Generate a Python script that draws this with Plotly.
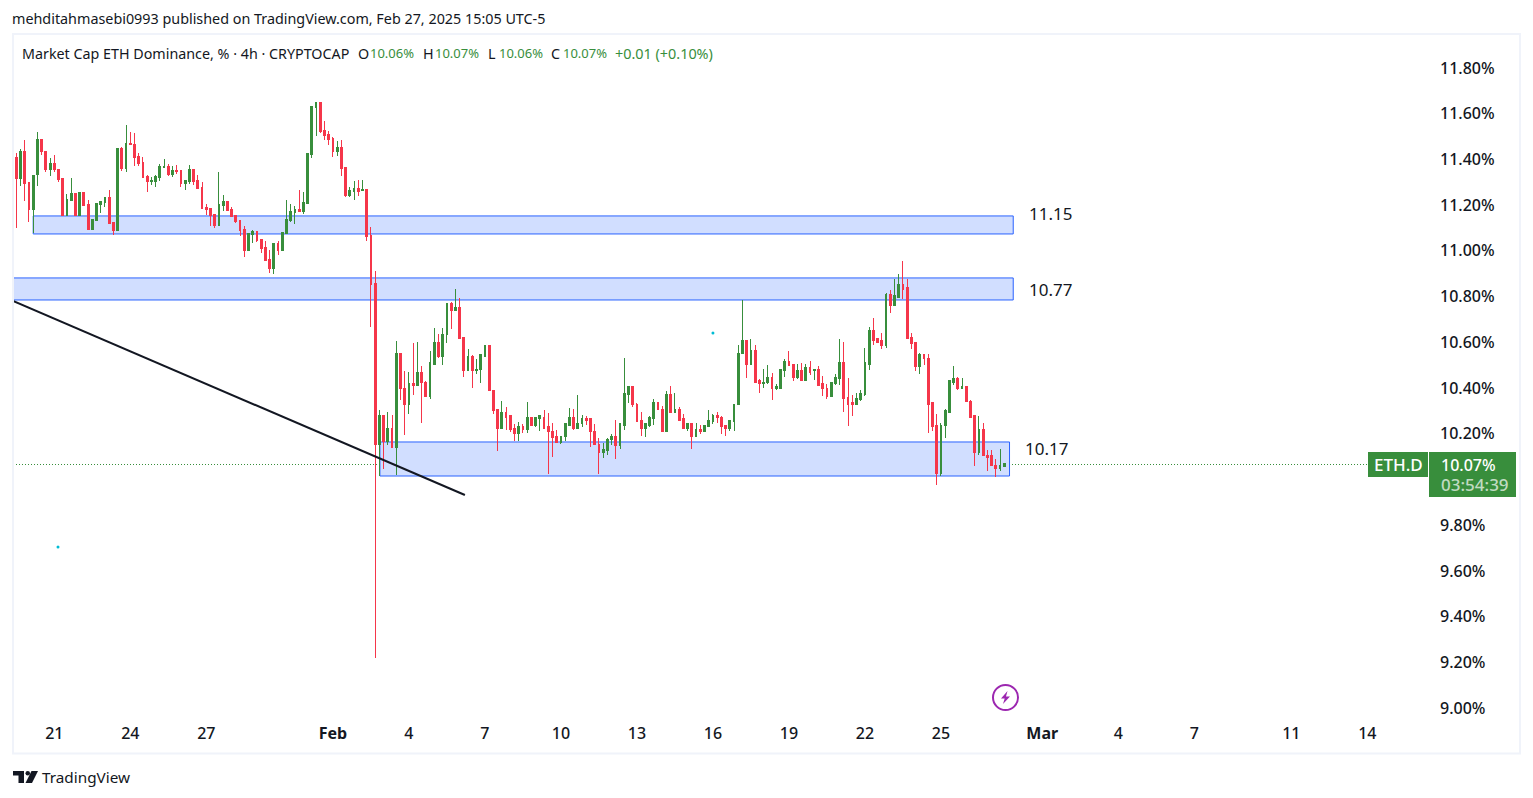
import pandas as pd
import plotly.graph_objects as go

FONT = "Noto Sans"
INK = "#131722"
GREEN = "#388E3C"
RED = "#F5364A"
BOX_LINE = "#2962FF"
BOX_FILL = "#D1DEFF"

first_bar = "2025-01-19 11:00"
opens = [11.427,
 11.409,11.316,11.436,11.297,11.181,11.334,11.488,11.436,11.354,11.383,11.357,11.315,11.153,11.220,11.249,11.153,11.253,11.201,11.092,11.131,11.201,11.210,11.232,11.122,11.087,11.446,11.358,11.468,11.463,11.411,11.385,11.323,11.302,11.302,11.319,11.363,11.367,11.332,11.350,11.350,11.293,11.302,11.354,11.306,
 11.275,11.188,11.183,11.157,11.109,11.197,11.214,11.179,11.153,11.131,11.092,11.000,11.073,11.083,11.048,11.013,10.960,10.921,11.030,11.000,11.074,11.131,11.166,11.179,11.170,11.205,11.420,11.625,11.647,11.525,11.507,11.490,11.433,11.450,11.363,11.240,11.258,11.271,11.262,11.267,11.065,10.855,
 10.151,10.282,10.168,10.225,10.142,10.553,10.400,10.326,10.418,10.413,10.466,10.426,10.361,10.505,10.597,10.540,10.632,10.768,10.737,10.750,10.619,10.475,10.536,10.475,10.479,10.540,10.584,10.391,10.304,10.225,10.291,10.278,10.221,10.203,10.230,10.217,10.269,10.238,10.265,10.273,10.230,10.212,
 10.186,10.160,10.186,10.238,10.273,10.221,10.243,10.265,10.265,10.212,10.155,10.120,10.125,10.173,10.186,10.147,10.238,10.370,10.405,10.330,10.256,10.225,10.238,10.265,10.335,10.308,10.212,10.370,10.291,10.308,10.265,10.221,10.243,10.186,10.217,10.208,10.230,10.252,10.282,10.273,10.234,10.221,10.252,10.326,
 10.549,10.606,10.501,10.566,10.431,10.418,10.422,10.444,10.400,10.400,10.475,10.514,10.501,10.448,10.475,10.431,10.488,10.475,10.479,10.418,10.400,10.365,10.418,10.440,10.510,10.357,10.335,10.326,10.348,10.370,10.505,10.650,10.615,
 10.606,10.588,10.807,10.763,10.798,10.851,10.838,10.619,10.597,10.496,10.545,10.531,10.335,10.234,10.024,10.234,10.295,10.426,10.440,10.396,10.405,10.343,10.278,10.120,10.217,10.107,10.103,10.063,10.046,10.055]
highs = [11.427,
 11.427,11.444,11.485,11.297,11.331,11.519,11.488,11.436,11.405,11.420,11.357,11.315,11.249,11.318,11.253,11.253,11.253,11.221,11.140,11.205,11.216,11.232,11.267,11.122,11.446,11.456,11.551,11.520,11.516,11.428,11.411,11.332,11.323,11.332,11.380,11.402,11.380,11.372,11.376,11.350,11.306,11.376,11.354,11.332,
 11.302,11.205,11.183,11.157,11.345,11.245,11.214,11.192,11.153,11.131,11.109,11.074,11.092,11.083,11.048,11.044,11.004,11.030,11.044,11.083,11.223,11.205,11.197,11.267,11.258,11.428,11.630,11.652,11.647,11.568,11.525,11.498,11.481,11.485,11.363,11.280,11.306,11.310,11.310,11.267,11.105,10.912,
 10.304,10.282,10.295,10.282,10.606,10.553,10.475,10.470,10.597,10.601,10.496,10.431,10.562,10.663,10.636,10.663,10.772,10.776,10.833,10.794,10.619,10.571,10.545,10.527,10.549,10.588,10.584,10.391,10.308,10.343,10.317,10.278,10.243,10.252,10.243,10.339,10.269,10.273,10.282,10.304,10.291,10.247,
 10.217,10.190,10.243,10.313,10.308,10.370,10.282,10.278,10.269,10.243,10.182,10.160,10.182,10.199,10.260,10.247,10.531,10.405,10.405,10.335,10.295,10.247,10.278,10.352,10.335,10.322,10.387,10.409,10.378,10.317,10.287,10.247,10.243,10.247,10.238,10.234,10.304,10.287,10.295,10.278,10.234,10.256,10.330,10.588,
 10.785,10.610,10.615,10.588,10.440,10.483,10.501,10.466,10.418,10.479,10.527,10.562,10.501,10.505,10.510,10.505,10.518,10.479,10.497,10.453,10.418,10.422,10.462,10.615,10.601,10.444,10.370,10.378,10.391,10.575,10.667,10.706,10.615,
 10.641,10.816,10.829,10.877,10.899,10.956,10.877,10.641,10.597,10.553,10.545,10.549,10.335,10.287,10.247,10.308,10.431,10.496,10.448,10.444,10.409,10.348,10.278,10.278,10.247,10.129,10.129,10.090,10.133,10.068]
lows = [11.405,
 11.102,11.284,11.216,11.128,11.077,11.284,11.417,11.347,11.329,11.347,11.299,11.153,11.153,11.220,11.153,11.153,11.198,11.092,11.092,11.131,11.166,11.192,11.118,11.071,11.087,11.350,11.347,11.463,11.372,11.372,11.319,11.258,11.288,11.280,11.306,11.363,11.328,11.323,11.337,11.280,11.267,11.293,11.288,11.271,
 11.183,11.157,11.109,11.100,11.109,11.175,11.175,11.149,11.122,11.065,10.974,11.000,11.035,11.039,10.991,10.956,10.904,10.899,10.982,11.000,11.074,11.127,11.118,11.170,11.162,11.205,11.407,11.503,11.516,11.485,11.463,11.411,11.415,11.328,11.236,11.236,11.223,11.240,11.262,11.044,10.668,9.219,
 10.015,10.046,10.151,10.142,10.020,10.348,10.195,10.287,10.370,10.409,10.247,10.361,10.352,10.505,10.531,10.501,10.597,10.658,10.737,10.615,10.448,10.475,10.400,10.461,10.422,10.536,10.387,10.287,10.125,10.225,10.217,10.208,10.168,10.168,10.203,10.203,10.234,10.230,10.212,10.225,10.024,10.098,
 10.160,10.155,10.168,10.234,10.217,10.221,10.230,10.238,10.142,10.151,10.024,10.094,10.107,10.151,10.090,10.133,10.217,10.335,10.317,10.252,10.190,10.186,10.230,10.238,10.304,10.212,10.212,10.291,10.291,10.260,10.221,10.212,10.133,10.186,10.199,10.208,10.230,10.243,10.247,10.199,10.190,10.212,10.212,10.326,
 10.549,10.444,10.501,10.426,10.378,10.400,10.418,10.348,10.391,10.400,10.448,10.497,10.431,10.440,10.431,10.431,10.457,10.435,10.409,10.365,10.352,10.365,10.413,10.413,10.295,10.234,10.278,10.326,10.343,10.365,10.479,10.588,10.597,
 10.571,10.575,10.728,10.763,10.798,10.790,10.615,10.571,10.475,10.461,10.501,10.203,10.212,9.976,10.015,10.182,10.295,10.413,10.391,10.396,10.339,10.273,10.059,10.107,10.103,10.037,10.059,10.011,10.037,10.055]
closes = [11.405,
 11.316,11.436,11.294,11.181,11.331,11.488,11.433,11.354,11.383,11.354,11.312,11.153,11.223,11.249,11.153,11.253,11.198,11.092,11.135,11.205,11.214,11.232,11.118,11.087,11.446,11.358,11.468,11.463,11.407,11.380,11.319,11.302,11.306,11.323,11.367,11.367,11.332,11.350,11.345,11.293,11.306,11.354,11.302,11.271,
 11.183,11.179,11.153,11.109,11.201,11.214,11.175,11.149,11.127,11.087,11.000,11.074,11.083,11.044,11.009,10.956,10.921,11.030,11.000,11.079,11.135,11.170,11.179,11.170,11.210,11.424,11.630,11.647,11.520,11.503,11.485,11.433,11.450,11.358,11.240,11.262,11.271,11.258,11.267,11.061,10.851,10.151,
 10.282,10.168,10.225,10.142,10.553,10.396,10.326,10.418,10.413,10.466,10.422,10.361,10.510,10.597,10.540,10.636,10.768,10.737,10.750,10.615,10.475,10.536,10.475,10.483,10.545,10.584,10.387,10.300,10.225,10.291,10.273,10.217,10.203,10.230,10.217,10.269,10.238,10.269,10.278,10.225,10.208,10.182,
 10.160,10.190,10.243,10.273,10.221,10.247,10.265,10.260,10.208,10.151,10.120,10.129,10.177,10.186,10.147,10.243,10.374,10.405,10.326,10.252,10.225,10.243,10.269,10.335,10.304,10.212,10.370,10.291,10.308,10.260,10.221,10.243,10.186,10.217,10.212,10.234,10.256,10.282,10.269,10.230,10.221,10.256,10.330,10.553,
 10.606,10.501,10.566,10.426,10.418,10.426,10.444,10.400,10.405,10.479,10.514,10.497,10.448,10.475,10.431,10.488,10.470,10.479,10.413,10.396,10.365,10.422,10.444,10.510,10.352,10.330,10.326,10.352,10.374,10.510,10.650,10.610,10.601,
 10.588,10.807,10.763,10.803,10.851,10.833,10.615,10.593,10.496,10.545,10.527,10.330,10.230,10.024,10.238,10.300,10.431,10.440,10.396,10.405,10.339,10.273,10.120,10.217,10.103,10.098,10.059,10.046,10.059,10.068]

x_tick_dates = ["2025-01-21 03:00","2025-01-24 03:00","2025-01-27 03:00","2025-02-01 03:00","2025-02-04 03:00",
                "2025-02-07 03:00","2025-02-10 03:00","2025-02-13 03:00","2025-02-16 03:00","2025-02-19 03:00",
                "2025-02-22 03:00","2025-02-25 03:00","2025-03-01 03:00","2025-03-04 03:00","2025-03-07 03:00",
                "2025-03-10 23:00","2025-03-13 23:00"]
x_tick_labels = ["21","24","27","<b>Feb</b>","4","7","10","13","16","19","22","25","<b>Mar</b>","4","7","11","14"]
y_tick_values = [9.0,9.2,9.4,9.6,9.8,10.2,10.4,10.6,10.8,11.0,11.2,11.4,11.6,11.8]
y_tick_labels = ["9.00%","9.20%","9.40%","9.60%","9.80%","10.20%","10.40%","10.60%","10.80%","11.00%","11.20%","11.40%","11.60%","11.80%"]

zone_starts = ["2025-01-20 07:00","2025-01-01 00:00","2025-02-02 23:30"]
zone_ends = ["2025-02-27 23:30","2025-02-27 23:30","2025-02-27 20:00"]
zone_tops = [11.1526,10.8814,10.1640]
zone_bottoms = [11.0738,10.7851,10.0152]
zone_labels = ["11.15","10.77","10.17"]
trend_dates = ["2025-01-19 11:52","2025-02-06 08:00"]
trend_prices = [10.7808,9.9321]
stray_dates = ["2025-01-21 06:30","2025-02-16 03:00"]
stray_prices = [9.7046,10.6408]
last_price = 10.066

WIDTH, HEIGHT = 1533, 798
LEFT, RIGHT, TOP, BOTTOM = 13, 1437, 35, 720
def px(x): return (x - LEFT) / (RIGHT - LEFT)
def py(y): return (BOTTOM - y) / (BOTTOM - TOP)

dates = pd.date_range(first_bar, periods=len(opens), freq="4h")

fig = go.Figure()
fig.add_trace(go.Candlestick(
    x=dates, open=opens, high=highs, low=lows, close=closes, whiskerwidth=0,
    increasing=dict(line=dict(color=GREEN, width=1), fillcolor=GREEN),
    decreasing=dict(line=dict(color=RED, width=1), fillcolor=RED),
    showlegend=False, hoverinfo="skip"))
fig.add_trace(go.Scatter(x=stray_dates, y=stray_prices, mode="markers",
    marker=dict(color="#00BCD4", size=3), showlegend=False, hoverinfo="skip"))

shapes = []
def rect(x0, y0, x1, y1, fill, line=None, lw=0, layer="above"):
    shapes.append(dict(type="rect", xref="paper", yref="paper", x0=px(x0), x1=px(x1), y0=py(y0), y1=py(y1),
                       fillcolor=fill, line=dict(color=line or fill, width=lw), layer=layer))

for s, e, t, b in zip(zone_starts, zone_ends, zone_tops, zone_bottoms):
    shapes.append(dict(type="rect", xref="x", yref="y", x0=s, x1=e, y0=b, y1=t, fillcolor=BOX_FILL,
                       line=dict(color=BOX_LINE, width=1), layer="below"))
shapes.append(dict(type="line", xref="paper", yref="y", x0=0, x1=px(1368), y0=last_price, y1=last_price,
                   line=dict(color=GREEN, width=1, dash="1px,2px"), layer="below"))
shapes.append(dict(type="line", xref="x", yref="y", x0=trend_dates[0], x1=trend_dates[1],
                   y0=trend_prices[0], y1=trend_prices[1], line=dict(color=INK, width=2), layer="above"))
# chart frame
shapes.append(dict(type="rect", xref="paper", yref="paper", x0=px(13), x1=px(1520), y0=py(34), y1=py(753.5),
                   fillcolor="rgba(0,0,0,0)", line=dict(color="#F0F3FA", width=2), layer="above"))
# price tags
rect(1368, 452, 1428, 477, GREEN)
rect(1429, 452, 1516, 497, GREEN)
# lightning icon
shapes.append(dict(type="circle", xref="paper", yref="paper", x0=px(993), x1=px(1018), y0=py(685), y1=py(710),
                   fillcolor="white", line=dict(color="#9C27B0", width=2), layer="above"))
def path(points):
    return "M " + " L ".join(f"{px(a):.5f},{py(b):.5f}" for a, b in points) + " Z"
shapes.append(dict(type="path", xref="paper", yref="paper", fillcolor="#9C27B0", line=dict(width=0),
                   path=path([(1007.5,691),(1001,698.5),(1004.7,698.5),(1003,704),(1010,696.5),(1006,696.5)])))
# TradingView mark
for poly in ([(13,771),(24,771),(24,783),(18.5,783),(18.5,775.5),(13,775.5)],
             [(31.5,771),(38,771),(32,783),(25.5,783)]):
    shapes.append(dict(type="path", xref="paper", yref="paper", fillcolor=INK, line=dict(width=0), path=path(poly)))
shapes.append(dict(type="circle", xref="paper", yref="paper", x0=px(25.5), x1=px(30), y0=py(771), y1=py(775.5),
                   fillcolor=INK, line=dict(width=0)))

def text(x, y, s, size=14, color=INK, anchor="left", weight=400):
    return dict(xref="paper", yref="paper", x=px(x), y=py(y), text=s, showarrow=False, xanchor=anchor, yanchor="middle",
                font=dict(family=FONT, size=size, color=color, weight=weight), align=anchor, borderpad=0, borderwidth=0)

annotations = [
    text(12, 19, "mehditahmasebi0993 published on TradingView.com, Feb 27, 2025 15:05 UTC-5", 14.35),
    text(22, 53.5, "Market Cap ETH Dominance, % · 4h · CRYPTOCAP", 14.3),
    text(358, 53.5, "O", 14.3), text(370, 53.5, "10.06%", 13, GREEN),
    text(423, 53.5, "H", 14.3), text(435, 53.5, "10.07%", 13, GREEN),
    text(488, 53.5, "L", 14.3), text(499, 53.5, "10.06%", 13, GREEN),
    text(551, 53.5, "C", 14.3), text(563, 53.5, "10.07%", 13, GREEN),
    text(615, 53.5, "+0.01 (+0.10%)", 14.4, GREEN),
    text(1029, 214, zone_labels[0], 17),
    text(1029, 289.5, zone_labels[1], 17),
    text(1025, 448.5, zone_labels[2], 17),
    text(1398, 464.5, "ETH.D", 17, "white", "center", 500),
    text(1468.5, 464.5, "10.07%", 16, "white", "center", 500),
    text(1475, 484.5, "03:54:39", 17, "rgba(255,255,255,0.7)", "center", 500),
    text(41.5, 776.5, "TradingView", 15.3),
]

fig.update_layout(
    width=WIDTH, height=HEIGHT, autosize=False, paper_bgcolor="white", plot_bgcolor="white",
    margin=dict(l=LEFT, r=WIDTH - RIGHT, t=TOP, b=HEIGHT - BOTTOM, pad=0),
    shapes=shapes, annotations=annotations, boxgap=0.38, hovermode=False,
    font=dict(family=FONT, color=INK),
    xaxis=dict(type="date", range=["2025-01-19 11:52", "2025-03-16 17:00"], rangeslider=dict(visible=False),
               tickmode="array", tickvals=x_tick_dates, ticktext=x_tick_labels, tickangle=0, ticklabelstandoff=2,
               showgrid=False, zeroline=False, showline=False, ticks="",
               tickfont=dict(size=16, color=INK, family=FONT, weight=500)),
    yaxis=dict(side="right", range=[8.948, 11.944], tickmode="array", tickvals=y_tick_values, ticktext=y_tick_labels,
               ticklabelstandoff=2, showgrid=False, zeroline=False, showline=False, ticks="",
               tickfont=dict(size=16, color=INK, family=FONT, weight=500)),
)
crisp = ("document.body.style.margin='0';document.body.style.overflow='hidden';"
         "document.querySelectorAll('.boxlayer path, .layer-below .shapelayer path')"
         ".forEach(function(p){p.style.shapeRendering='crispEdges';});")
fig.write_html("out.html", config=dict(displayModeBar=False), post_script=crisp)
